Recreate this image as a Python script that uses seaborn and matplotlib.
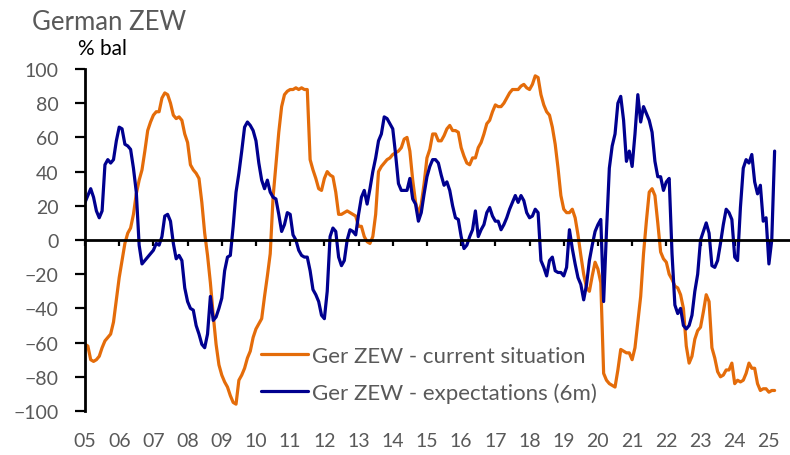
import numpy as np
import pandas as pd
import matplotlib
matplotlib.use("Agg")
import matplotlib.pyplot as plt
import seaborn as sns

# monthly readings, Jan 2005 - Mar 2025
current_situation = [
    -61, -62, -70, -71, -70, -68, -63, -59, -57, -55, -48, -35,   # 2005
    -22, -12, -2, 4, 7, 15, 27, 35, 41, 52, 64, 69,               # 2006
    73, 75, 75, 83, 86, 85, 80, 73, 71, 72, 70, 62,               # 2007
    57, 44, 41, 39, 36, 22, 4, -9, -25, -44, -61, -73,            # 2008
    -79, -83, -86, -91, -95, -96, -82, -79, -75, -69, -65, -57,   # 2009
    -52, -49, -46, -33, -21, -8, 25, 44, 63, 78, 85, 87,          # 2010
    88, 88, 89, 88, 89, 88, 88, 47, 41, 36, 30, 29,               # 2011
    36, 40, 38, 37, 28, 15, 15, 16, 17, 16, 15, 14,               # 2012
    8, 8, 2, -1, -2, 2, 15, 40, 43, 45, 47, 48,                   # 2013
    50, 51, 52, 54, 59, 60, 52, 35, 22, 15, 21, 33,               # 2014
    48, 53, 62, 62, 58, 58, 61, 65, 67, 64, 64, 63,               # 2015
    54, 49, 45, 44, 48, 48, 54, 57, 62, 68, 70, 75,               # 2016
    79, 78, 78, 80, 83, 86, 88, 88, 88, 90, 91, 89,               # 2017
    88, 91, 96, 95, 85, 79, 75, 73, 66, 56, 42, 26,               # 2018
    18, 16, 16, 18, 13, 3, -9, -20, -28, -30, -21, -13,           # 2019
    -17, -25, -78, -82, -84, -85, -86, -76, -64, -65, -66, -66,   # 2020
    -70, -63, -48, -33, -8, 11, 28, 30, 26, 10, -7, -11,          # 2021
    -13, -20, -23, -27, -28, -32, -40, -62, -72, -68, -58, -53,   # 2022
    -51, -42, -32, -36, -63, -69, -77, -80, -79, -76, -76, -72,   # 2023
    -84, -82, -83, -82, -78, -72, -75, -75, -84, -88, -87, -87,   # 2024
    -89, -88, -88,                                                # 2025
]

expectations = [
    22, 26, 30, 25, 17, 13, 17, 44, 47, 45, 47, 58,               # 2005
    66, 65, 56, 55, 53, 42, 28, -3, -14, -12, -10, -8,            # 2006
    -6, -2, -3, 2, 14, 15, 11, -2, -11, -9, -12, -28,             # 2007
    -36, -40, -41, -50, -55, -61, -63, -55, -33, -47, -45, -40,   # 2008
    -34, -18, -10, -9, 8, 28, 39, 52, 66, 69, 67, 64,             # 2009
    58, 45, 35, 30, 35, 28, 25, 24, 15, 5, 9, 16,                 # 2010
    15, 3, 0, -6, -9, -10, -10, -18, -29, -32, -36, -44,          # 2011
    -46, -30, 2, 7, 5, -10, -15, -12, 0, 6, 5, 3,                 # 2012
    15, 25, 29, 21, 30, 40, 48, 58, 62, 72, 71, 68,               # 2013
    65, 50, 33, 29, 29, 29, 36, 24, 21, 11, 16, 27,               # 2014
    37, 43, 47, 47, 45, 38, 32, 34, 29, 20, 13, 12,               # 2015
    2, -5, -3, 2, 6, 17, 2, 6, 9, 16, 19, 14,                     # 2016
    11, 11, 6, 9, 13, 18, 22, 26, 22, 26, 23, 16,                 # 2017
    13, 14, 18, 16, -12, -16, -21, -12, -10, -18, -19, -19,       # 2018
    -21, -16, 6, -5, -14, -22, -26, -35, -26, -12, -3, 5,         # 2019
    9, 12, -36, 5, 42, 55, 62, 80, 84, 70, 46, 52,                # 2020
    43, 62, 85, 69, 78, 74, 70, 63, 46, 37, 37, 29,               # 2021
    34, 36, -8, -38, -43, -40, -50, -52, -50, -44, -30, -20,      # 2022
    0, 5, 10, 4, -15, -16, -12, -2, 9, 18, 16, 12,                # 2023
    -10, -12, 19, 42, 47, 45, 50, 34, 27, 32, 11, 13,             # 2024
    -14, 0, 52,                                                   # 2025
]

series_names = ["Ger ZEW - current situation", "Ger ZEW - expectations (6m)"]
year_labels = ["05", "06", "07", "08", "09", "10", "11", "12", "13", "14", "15",
               "16", "17", "18", "19", "20", "21", "22", "23", "24", "25"]

ORANGE = "#E46C0A"
NAVY = "#00008F"
GREY = "#595959"

df = pd.DataFrame({
    "month": np.arange(len(current_situation)),
    series_names[0]: current_situation,
    series_names[1]: expectations,
})
long = df.melt(id_vars="month", var_name="series", value_name="value")

sns.set_theme(style="white")
plt.rcParams["font.family"] = ["Lato", "DejaVu Sans"]

fig = plt.figure(figsize=(7.9, 4.56), dpi=100)
ax = fig.add_axes([85 / 790, 44 / 456, 705 / 790, 342 / 456])

sns.lineplot(data=long, x="month", y="value", hue="series",
             hue_order=series_names, palette=[ORANGE, NAVY],
             linewidth=2.3, legend=False, ax=ax)
for ln in ax.get_lines():
    ln.set_solid_joinstyle("round")

ax.set_xlim(0, 247.4)
ax.set_ylim(-100, 100)
ax.set_yticks(range(-100, 101, 20))
ax.set_xticks(range(0, 12 * len(year_labels), 12))
ax.set_xlabel("")
ax.set_ylabel("")

for s in ["top", "right"]:
    ax.spines[s].set_visible(False)
ax.spines["bottom"].set_position(("data", 0))
for s in ["left", "bottom"]:
    ax.spines[s].set_color("black")
    ax.spines[s].set_linewidth(2)

ax.tick_params(axis="y", left=True, direction="out", length=7, width=1.6,
               color="black", labelcolor=GREY, labelsize=14, pad=12)
ax.tick_params(axis="x", bottom=True, direction="out", length=4, width=1.6,
               color="black", labelbottom=False)

# year labels sit below the plot, not on the zero line
sec = ax.secondary_xaxis("bottom")
sec.set_xticks(range(0, 12 * len(year_labels), 12), labels=year_labels)
sec.spines["bottom"].set_visible(False)
sec.tick_params(length=0, labelsize=14, labelcolor=GREY, pad=15)

lines = ax.get_lines()[:2]
ax.legend(lines, series_names, loc="upper left",
          bbox_to_anchor=(261 / 790, 1 - 347 / 456),
          bbox_transform=fig.transFigure, frameon=False, fontsize=16,
          labelcolor=GREY, handlelength=2.1, handletextpad=0.2,
          labelspacing=0.74, borderpad=0, borderaxespad=0)

fig.text(32 / 790, 1 - 30 / 456, "German ZEW", fontsize=18.5, color=GREY,
         ha="left", va="baseline")
fig.text(78 / 790, 1 - 55 / 456, "% bal", fontsize=15, color="black",
         ha="left", va="baseline")

fig.savefig("out.png", dpi=100)
